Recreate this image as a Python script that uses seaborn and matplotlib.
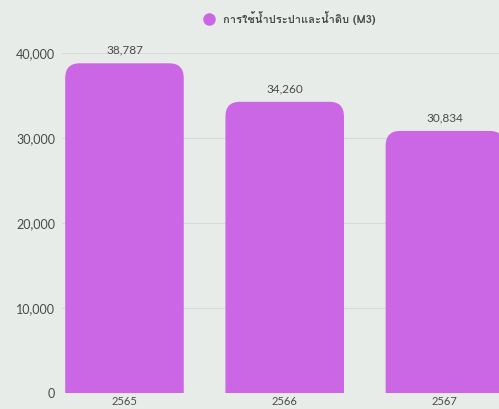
import numpy as np
import pandas as pd
import matplotlib
matplotlib.use("Agg")
import matplotlib.pyplot as plt
from matplotlib import font_manager
from matplotlib.ft2font import FT2Font
from matplotlib.patches import FancyBboxPatch
from matplotlib.lines import Line2D
import seaborn as sns

years = ["2565", "2566", "2567"]
usage = [38787, 34260, 30834]
series_name = "การใช้น้ำประปาและน้ำดิบ (M3)"
y_ticks = [0, 10000, 20000, 30000, 40000]

BAR = "#CB67E5"
BG = "#E8ECE9"
TXT = "#4A4A4A"


def thai_family():
    # pick an installed family that can render Thai script
    for f in font_manager.fontManager.ttflist:
        try:
            cmap = FT2Font(f.fname).get_charmap()
        except Exception:
            continue
        if 0x0E01 in cmap and 0x0E32 in cmap:
            return f.name
    return None


sns.set_theme(style="white")
fam = thai_family()
families = ([fam] if fam else []) + ["DejaVu Sans"]
plt.rcParams["font.family"] = ["Lato", "DejaVu Sans"]

df = pd.DataFrame({"year": years, "usage": usage})

W, H = 499, 409
fig = plt.figure(figsize=(W / 100, H / 100), dpi=100, facecolor=BG)
ax = fig.add_axes([62 / W, 16 / H, 1 - 62 / W, (393 - 53) / H])
ax.set_facecolor(BG)

sns.barplot(data=df, x="year", y="usage", color=BAR, width=0.74,
            saturation=1, ax=ax, zorder=3)

ax.set_xlim(-0.39, (W - 125) / 160)
ax.set_ylim(0, 40000)

# rounded tops: replace each rectangle with a rounded box whose lower
# corners sit below the baseline and get clipped by the axes
rx = 0.09
ry = 1750
for p in list(ax.patches):
    x0, w, h = p.get_x(), p.get_width(), p.get_height()
    p.remove()
    box = FancyBboxPatch((x0, -4000), w, h + 4000,
                         boxstyle=f"round,pad=0,rounding_size={rx}",
                         mutation_aspect=ry / rx,
                         facecolor=BAR, edgecolor="none", zorder=3)
    ax.add_patch(box)
    ax.text(x0 + w / 2, h + 900, f"{h:,.0f}", ha="center", va="bottom",
            fontsize=8.5, color=TXT, clip_on=False)

ax.set_yticks(y_ticks)
ax.set_yticklabels([f"{v:,}" for v in y_ticks])
ax.yaxis.grid(True, color="#D6DBD7", linewidth=0.8, zorder=0)
ax.set_axisbelow(True)
ax.tick_params(axis="y", length=0, pad=5, labelsize=9, labelcolor=TXT)
ax.tick_params(axis="x", length=0, pad=2, labelsize=8, labelcolor=TXT)
ax.set_xlabel("")
ax.set_ylabel("")
for s in ax.spines.values():
    s.set_visible(False)

handle = Line2D([], [], marker="o", linestyle="none", markersize=8,
                markerfacecolor=BAR, markeredgecolor=BAR)
fig.legend([handle], [series_name], loc="center", bbox_to_anchor=(287 / W, 1 - 18 / H),
           frameon=False, handletextpad=0.3,
           prop={"family": families, "size": 8, "weight": "bold"},
           labelcolor=TXT)

fig.savefig("out.png", dpi=100, facecolor=BG)
